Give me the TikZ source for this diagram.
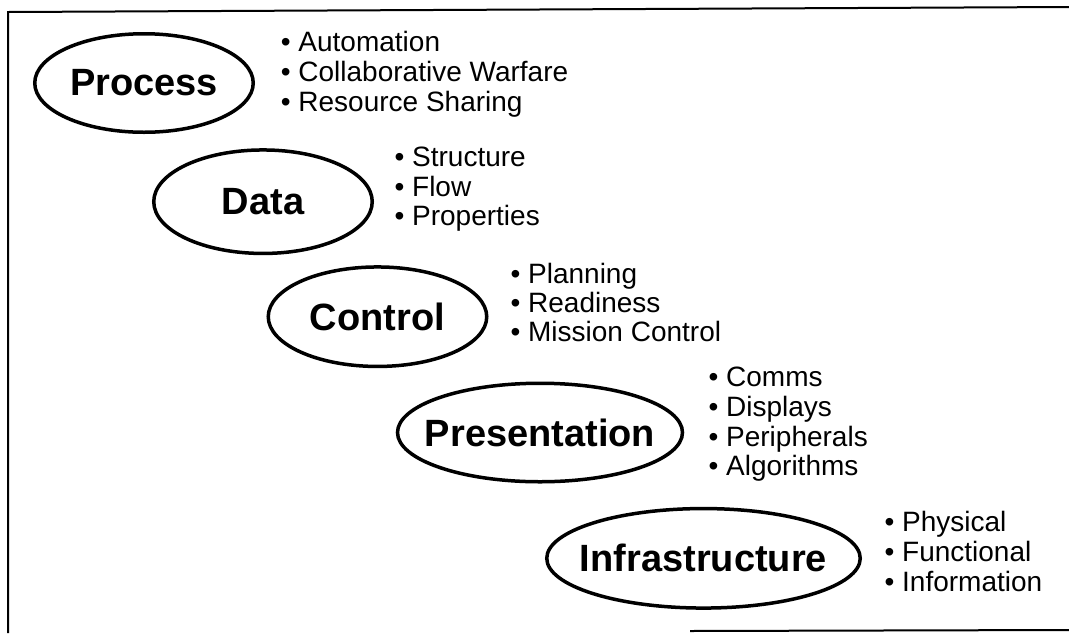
\documentclass[tikz,border=0pt]{standalone}
\usepackage{fontspec}
\setmainfont{Liberation Sans}
\usetikzlibrary{shapes.geometric}
\tikzset{
  layer/.style={draw=black, line width=3.5pt, ellipse, inner sep=0pt,
    font=\fontsize{38}{40}\selectfont\bfseries},
  item/.style={inner sep=0pt, anchor=base west, font=\fontsize{28}{30}\selectfont},
  frame/.style={draw=black, line width=2pt}
}
\newcommand{\lbl}[1]{\makebox[0pt]{#1}}
\begin{document}
\begin{tikzpicture}[x=1pt, y=-1pt]
\useasboundingbox (0,0) rectangle (1069,633);
% frame
\coordinate (tl) at (8,12);
\coordinate (tr) at (1069,7);
\coordinate (bl) at (8,633);
\coordinate (b1) at (690,631);
\coordinate (b2) at (1069,630);
\draw[frame] (tr) -- (tl) -- (bl);
\draw[frame] (b1) -- (b2);
% layers
\node[layer, minimum width=218.5pt, minimum height=98.5pt] (process) at (144,83) {\lbl{Process}};
\node[layer, minimum width=218.5pt, minimum height=103.5pt] (data) at (263,201.7) {\lbl{Data}};
\node[layer, minimum width=218.5pt, minimum height=99.5pt] (control) at (377.5,316.7) {\lbl{Control}};
\node[layer, minimum width=285pt, minimum height=98.5pt] (presentation) at (540,432.5) {\lbl{Presentation}};
\node[layer, minimum width=313.5pt, minimum height=99.5pt] (infrastructure) at (703.5,558.3) {\lbl{Infrastructure}};
% process items
\node[item] (p1) at (280.7,51.7) {• Automation};
\node[item] (p2) at (280.7,81.7) {• Collaborative Warfare};
\node[item] (p3) at (280.7,111) {• Resource Sharing};
% data items
\node[item] (d1) at (394.4,166) {• Structure};
\node[item] (d2) at (394.4,196) {• Flow};
\node[item] (d3) at (394.4,225.5) {• Properties};
% control items
\node[item] (c1) at (510.4,283.3) {• Planning};
\node[item] (c2) at (510.4,312) {• Readiness};
\node[item] (c3) at (510.4,341.7) {• Mission Control};
% presentation items
\node[item] (r1) at (708.4,386.7) {• Comms};
\node[item] (r2) at (708.4,416.7) {• Displays};
\node[item] (r3) at (708.4,446.7) {• Peripherals};
\node[item] (r4) at (708.4,475.5) {• Algorithms};
% infrastructure items
\node[item] (i1) at (884.4,531.7) {• Physical};
\node[item] (i2) at (884.4,561.7) {• Functional};
\node[item] (i3) at (884.4,591.7) {• Information};
\end{tikzpicture}
\end{document}
